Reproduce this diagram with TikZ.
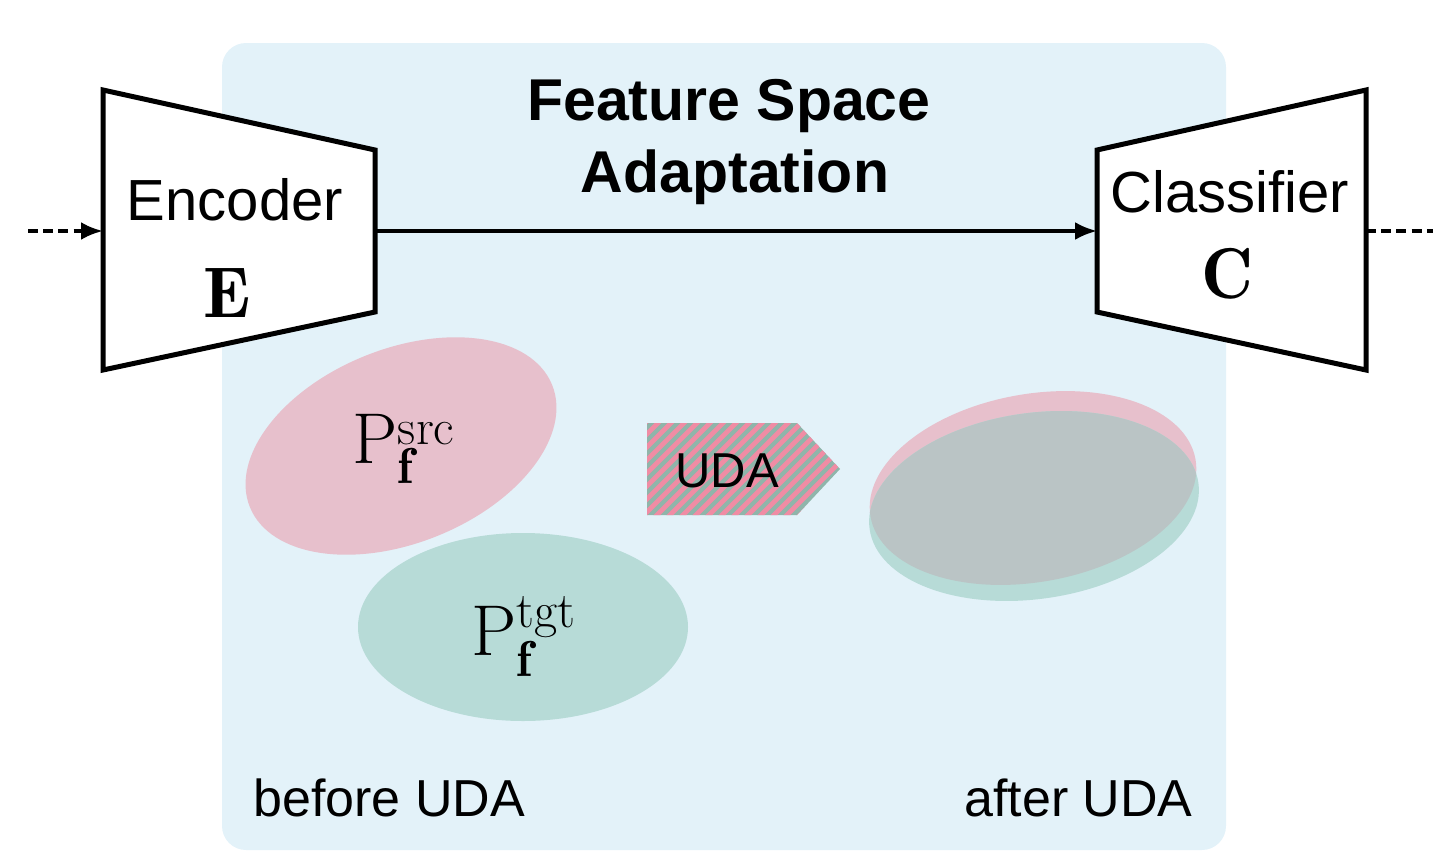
\documentclass[tikz,border=0pt]{standalone}
\usepackage{fontspec}
\newfontfamily\arial{Liberation Sans}
\usetikzlibrary{arrows.meta}
\definecolor{bgblue}{HTML}{E3F2F9}
\definecolor{srcpink}{HTML}{E7C0CC}
\definecolor{tgtteal}{HTML}{B7DBD7}
\definecolor{overlapgray}{HTML}{BAC4C5}
\definecolor{stripepink}{HTML}{F08CA4}
\definecolor{stripeteal}{HTML}{8FB5AA}
\tikzset{
  trapbox/.style={draw=black, fill=white, line width=2.5pt, line join=miter},
  mainarrow/.style={line width=1.8pt, -{Latex[length=11pt,width=9pt]}},
  dashline/.style={line width=2pt, dash pattern=on 5pt off 2.6pt},
  boxlabel/.style={font=\arial\fontsize{29}{34}\selectfont, anchor=base, inner sep=0pt},
  titlelabel/.style={font=\arial\bfseries\fontsize{29.5}{34}\selectfont, anchor=base, inner sep=0pt},
  sublabel/.style={font=\arial\fontsize{26}{30}\selectfont, anchor=base, inner sep=0pt},
  mathlabel/.style={font=\fontsize{36}{40}\selectfont, anchor=base, inner sep=0pt},
}
\begin{document}
\begin{tikzpicture}[x=0.5pt, y=-0.5pt]
\useasboundingbox (0,0) rectangle (1433,851);
% background panel
\fill[bgblue, rounded corners=12pt] (222,43) rectangle (1226,850);

% before UDA ellipses
\fill[srcpink] (401,446) [rotate around={22:(401,446)}] ellipse [x radius=163, y radius=97];
\fill[tgtteal] (523,627) ellipse [x radius=165, y radius=94];
\node[mathlabel] (psrc) at (404,463) {$\mathrm{P}_{\mathbf{f}}^{\mathrm{src}}$};
\node[mathlabel] (ptgt) at (524,655) {$\mathrm{P}_{\mathbf{f}}^{\mathrm{tgt}}$};

% UDA arrow (striped)
\begin{scope}
  \clip (647,423) -- (797,423) -- (840,469) -- (797,515) -- (647,515) -- cycle;
  \fill[stripeteal] (640,415) rectangle (850,520);
  \foreach \i in {0,...,24} {
    \draw[stripepink, line width=2.4pt] ({530+\i*13},525) -- ++(110,-110);
  }
\end{scope}
\node[font=\arial\fontsize{24.5}{28}\selectfont, anchor=base, inner sep=0pt] (uda) at (727,487) {UDA};

% after UDA ellipses
\fill[srcpink] (1033,488) [rotate around={10:(1033,488)}] ellipse [x radius=165, y radius=94];
\fill[tgtteal] (1034,506) [rotate around={8:(1034,506)}] ellipse [x radius=166, y radius=93];
\begin{scope}
  \clip (1033,488) [rotate around={10:(1033,488)}] ellipse [x radius=165, y radius=94];
  \fill[overlapgray] (1034,506) [rotate around={8:(1034,506)}] ellipse [x radius=166, y radius=93];
\end{scope}

% title
\node[titlelabel] (title1) at (729,120) {Feature Space};
\node[titlelabel] (title2) at (735,192) {Adaptation};

% encoder
\draw[trapbox] (103,90) -- (375,150) -- (375,312) -- (103,370) -- cycle;
\node[boxlabel] (enc) at (235,220) {Encoder};
\node[mathlabel] (E) at (227,317) {$\mathbf{E}$};
\coordinate (encIn) at (103,231);
\coordinate (encOut) at (375,231);

% classifier
\draw[trapbox] (1097,150) -- (1366,90) -- (1366,370) -- (1097,312) -- cycle;
\node[boxlabel] (cls) at (1230,212) {Classifier};
\node[mathlabel] (C) at (1227,298) {$\mathbf{C}$};
\coordinate (clsIn) at (1097,231);
\coordinate (clsOut) at (1366,231);

% connectors
\coordinate (inStart) at (28,231);
\coordinate (outEnd) at (1433,231);
\draw[dashline, -{Latex[length=11pt,width=9pt]}] (inStart) -- (encIn);
\draw[mainarrow] (encOut) -- (clsIn);
\draw[dashline] (clsOut) -- (outEnd);

% bottom labels
\node[sublabel, anchor=base west] (before) at (253,816) {before UDA};
\node[sublabel, anchor=base east] (after) at (1193,816) {after UDA};
\end{tikzpicture}
\end{document}
